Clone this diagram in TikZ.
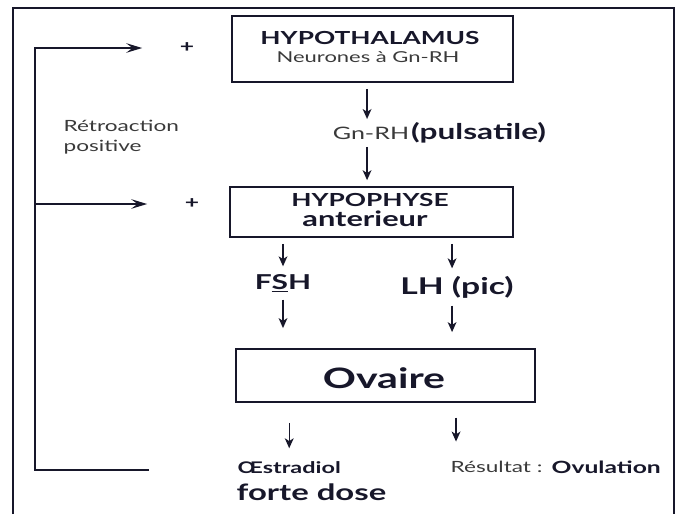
\documentclass[tikz,border=0pt]{standalone}
\usepackage{fontspec}
\setmainfont{Lato}[FakeStretch=1.46]
\usetikzlibrary{arrows.meta,calc}
\definecolor{ink}{HTML}{17172A}
\definecolor{greytxt}{HTML}{3A3A3A}
\newcommand{\fsz}[1]{\fontsize{#1}{#1}\selectfont}

\begin{document}
\begin{tikzpicture}[x=0.025cm, y=-0.025cm,
    box/.style={draw=ink, line width=1.1pt, inner sep=0pt},
    lbl/.style={text=ink, inner sep=1pt},
    arr/.style={-{Stealth[length=2.5mm,width=2.2mm,inset=0.7mm]}, line width=0.95pt, draw=ink,
                shorten <=1.5mm, shorten >=1.5mm},
    fbk/.style={-{Stealth[length=4mm,width=2.4mm,inset=1.6mm]}, line width=1pt, draw=ink}]
  \useasboundingbox (0,0) rectangle (678,514);
  \draw[line width=1.1pt, ink] (13,514) -- (13,8) -- (674,8) -- (674,514);
  % boxes
  \node[box, minimum width=7.03cm, minimum height=1.65cm] (hyp) at (372.5,49) {};
  \node[box, minimum width=7.08cm, minimum height=1.25cm] (hypo) at (371.5,212) {};
  \node[box, minimum width=7.48cm, minimum height=1.33cm] (ova) at (385.5,375.5) {};
  % texts
  \node[lbl, font=\fsz{12.8}\bfseries] (hypt) at (370,38) {HYPOTHALAMUS};
  \node[lbl, font=\fsz{10.7}, text=greytxt] (neur) at (368,57) {Neurones à Gn-RH};
  \node[lbl, font=\fsz{12.2}, text=greytxt] (gn) at (371,133) {Gn-RH};
  \node[lbl, font=\fsz{15.4}\bfseries, anchor=base west, inner sep=0pt] (puls) at (gn.base east) {(pulsatile)};
  \node[lbl, font=\fsz{12.8}\bfseries] (hypot) at (370,200) {HYPOPHYSE};
  \node[lbl, font=\fsz{15}\bfseries] (ant) at (365,219) {anterieur};
  \node[lbl, font=\fsz{14.6}\bfseries] (fsh) at (283,283) {F\underline{S}H};
  \node[lbl, font=\fsz{16.4}\bfseries] (lh) at (457,287) {LH (pic)};
  \node[lbl, font=\fsz{20}\bfseries] (ovt) at (384,378) {Ovaire};
  \node[lbl, font=\fsz{11.4}\bfseries, anchor=west] (oes) at (236,468) {Œstradiol};
  \node[lbl, font=\fsz{16}\bfseries, anchor=west] (dose) at (235,492) {forte dose};
  \node[lbl, font=\fsz{11}, text=greytxt, anchor=west] (res) at (449,467) {Résultat :};
  \node[lbl, font=\fsz{12}\bfseries, anchor=west] (ovu) at (550,467) {Ovulation};
  \node[lbl, font=\fontsize{11}{14.2}\selectfont, text=greytxt, align=left, anchor=west] (retro) at (62,137) {Rétroaction\\positive};
  \node[lbl, font=\fsz{12}\bfseries] (plus1) at (187,48) {+};
  \node[lbl, font=\fsz{12}\bfseries] (plus2) at (192,204) {+};
  % arrows
  \coordinate (gntop) at ([xshift=-2.8pt]gn.north);
  \coordinate (gnbot) at ([xshift=-2.8pt]gn.south);
  \coordinate (lhtop) at ([xshift=-3.5pt]lh.north);
  \coordinate (lhbot) at ([xshift=-3.5pt]lh.south);
  \coordinate (restop) at ([xshift=5pt]res.north west);
  \draw[arr] (hyp.south -| gntop) -- (gntop);
  \draw[arr] (gnbot) -- (hypo.north -| gnbot);
  \draw[arr] (hypo.south -| fsh) -- (fsh.north);
  \draw[arr, shorten >=5mm] (fsh.south) -- (ova.north -| fsh);
  \draw[arr] (hypo.south -| lhtop) -- (lhtop);
  \draw[arr, shorten >=4mm] (lhbot) -- (ova.north -| lhbot);
  \draw[arr, shorten <=5mm, shorten >=3mm] (ova.south -| oes) -- (oes.north);
  \draw[arr, shorten <=3.7mm, shorten >=4.5mm] (ova.south -| restop) -- (restop);
  % feedback
  \coordinate (fbend) at (149,470);
  \coordinate (fbcorner) at (35,470);
  \draw[fbk, shorten >=9mm] (fbend) -- (fbcorner) |- (plus1);
  \draw[fbk, shorten >=9mm] (fbcorner |- plus2) -- (plus2);
\end{tikzpicture}
\end{document}
